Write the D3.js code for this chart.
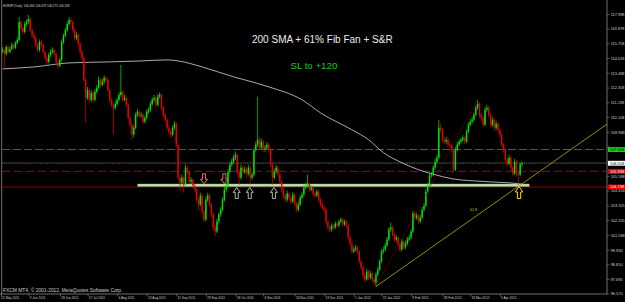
<!DOCTYPE html>
<html lang="en">
<head>
<meta charset="UTF-8">
<title>EURJPY Daily</title>
<script src="https://cdn.jsdelivr.net/npm/d3@7"></script>
<style>
	body { margin: 0; background: #000; }
	svg { display: block; }
	.small { font-family: "Liberation Sans", Arial, sans-serif; }
</style>
</head>
<body>
<svg id="chart" width="625" height="302"></svg>
<script>
// daily candles, EURJPY, 22 May 2011 .. mid Apr 2012
const open = [
	115.10,115.24,114.94,115.47,115.09,115.32,115.63,115.40,115.78,116.01,
	117.39,116.93,116.62,117.23,117.39,117.62,116.77,116.39,116.16,115.63,
	115.24,115.86,115.63,115.09,114.63,114.33,114.86,115.09,115.24,114.94,
	114.33,114.02,114.48,115.86,116.32,116.77,117.23,117.54,117.39,116.77,
	116.16,116.39,115.70,115.09,114.63,112.95,111.57,112.18,111.42,111.95,
	111.42,112.03,112.34,112.95,112.57,112.80,113.10,112.95,112.18,111.42,
	111.04,110.81,111.11,111.42,111.80,112.03,111.42,111.57,111.04,110.04,
	109.51,108.74,109.28,110.27,110.50,110.20,110.27,109.74,110.04,110.50,
	110.65,111.11,111.42,111.57,111.04,111.65,111.80,110.81,110.27,109.89,
	109.28,108.97,108.74,109.28,109.58,107.98,105.45,105.07,105.45,104.92,
	106.22,105.91,105.15,105.30,104.84,104.53,103.77,103.39,104.08,102.85,
	102.24,103.77,104.08,103.39,102.62,101.63,101.32,102.09,102.62,103.00,
	103.77,104.53,104.84,105.91,106.45,106.68,106.98,107.21,105.91,105.45,
	106.22,105.91,106.06,105.76,106.22,105.45,105.68,107.59,107.98,108.36,
	107.75,108.21,107.59,107.75,107.98,107.59,106.45,105.45,105.91,106.22,
	105.68,105.15,104.53,104.08,103.77,104.23,103.92,103.62,104.15,103.46,
	103.00,103.39,103.92,104.15,104.69,104.84,104.99,104.53,104.69,104.23,
	104.08,104.38,103.77,103.39,103.16,103.00,102.09,101.63,101.47,101.78,
	101.63,101.93,101.78,102.09,102.24,101.86,102.09,101.78,100.86,100.40,
	99.79,99.94,100.10,99.79,99.03,98.57,97.96,97.65,98.26,97.80,
	98.11,97.65,97.42,98.03,98.41,99.03,99.79,99.94,100.25,100.71,
	101.47,101.63,101.09,100.71,100.86,100.33,99.94,100.56,100.10,100.40,
	100.71,100.86,101.32,102.70,102.39,102.55,102.09,102.39,103.00,103.31,
	104.38,104.84,105.61,105.68,106.22,106.68,106.98,109.28,109.12,108.36,
	108.21,108.36,107.98,107.90,107.59,106.06,107.59,107.98,108.21,108.36,
	108.51,108.21,108.97,109.51,109.74,109.89,110.27,110.81,111.11,110.27,
	110.04,109.51,110.65,110.81,110.27,109.51,109.89,109.28,109.58,109.12,
	108.74,107.98,107.59,106.83,106.52,106.98,106.22,105.76,106.68,105.76,
	105.68,106.46
];
const high = [
	115.45,115.36,115.60,115.62,115.50,115.80,115.75,115.92,116.20,117.77,
	117.52,117.05,117.40,117.58,117.92,117.75,116.90,116.55,116.30,115.78,
	116.05,116.00,115.72,115.20,114.80,115.05,115.30,115.45,115.35,115.05,
	114.50,114.65,116.05,116.50,116.95,117.40,117.77,117.72,117.50,116.90,
	116.60,116.50,115.85,115.25,114.75,113.10,112.40,112.30,112.15,112.10,
	112.25,112.55,113.20,113.10,113.05,113.30,113.25,113.05,112.30,111.55,
	111.20,111.35,111.60,112.00,114.10,112.15,111.80,111.70,111.15,110.20,
	109.65,109.45,110.45,110.70,110.62,110.48,110.40,110.22,110.68,110.85,
	111.30,111.62,111.80,111.70,111.85,112.00,111.92,110.95,110.40,110.00,
	109.45,109.10,109.45,109.80,109.70,108.10,105.65,105.70,105.60,106.45,
	106.35,106.00,105.50,105.40,105.00,104.65,103.95,104.30,104.20,103.00,
	104.00,104.30,104.20,103.50,102.75,101.80,102.30,102.80,103.20,103.95,
	104.75,105.05,106.10,106.65,106.90,107.20,107.45,107.30,106.05,106.45,
	106.40,106.30,106.20,106.45,106.35,105.90,107.75,108.20,111.65,108.55,
	108.45,108.35,107.95,108.20,108.10,107.70,106.60,106.15,106.45,106.35,
	105.80,105.25,104.70,104.20,104.45,104.35,104.05,104.35,104.25,103.60,
	103.60,104.10,104.35,104.90,105.05,105.68,105.10,104.90,104.80,104.40,
	104.55,104.50,103.90,103.55,103.30,103.10,102.20,101.80,101.95,101.90,
	102.10,102.05,102.25,102.40,102.35,102.25,102.20,101.90,101.00,100.55,
	100.15,100.30,100.25,99.90,99.15,98.70,98.10,98.45,98.40,98.30,
	98.25,97.80,98.20,98.60,99.20,99.95,100.15,100.45,100.90,101.65,
	102.01,101.75,101.20,101.05,100.95,100.45,100.75,100.70,100.60,100.90,
	101.05,101.50,102.90,102.85,102.75,102.65,102.60,103.20,103.50,104.55,
	105.05,105.80,105.90,106.40,106.90,107.20,109.89,109.60,109.25,108.55,
	108.60,108.50,108.15,108.05,107.70,107.80,108.20,108.40,108.55,108.70,
	108.65,109.15,109.70,109.95,110.10,110.45,111.00,111.42,111.25,110.45,
	110.15,110.85,111.05,110.95,110.40,110.10,110.00,109.80,109.70,109.25,
	108.85,108.10,107.70,106.95,107.20,107.10,106.35,106.90,106.80,105.95,
	106.62,106.68
];
const low = [
	114.98,113.94,114.80,114.95,114.98,115.20,115.22,115.31,115.66,115.90,
	116.70,116.40,116.50,117.05,117.20,116.60,116.18,115.95,115.45,115.02,
	115.10,115.45,114.92,114.45,114.05,114.20,114.70,114.95,114.75,114.15,
	113.82,113.90,114.35,115.70,116.20,116.62,117.10,117.15,116.55,115.95,
	116.00,115.50,114.90,114.40,112.75,109.66,111.40,111.20,111.25,111.15,
	111.30,111.90,112.20,112.40,112.45,112.65,112.75,112.00,111.20,110.85,
	108.74,110.65,110.95,111.30,111.65,111.25,111.30,110.85,109.85,109.30,
	108.36,108.55,109.15,110.10,110.00,110.05,109.55,109.60,109.90,110.35,
	110.50,110.95,111.25,110.85,110.90,111.50,110.60,110.05,109.70,109.10,
	108.75,108.50,108.60,109.10,107.80,105.25,104.40,104.90,104.30,104.80,
	105.70,104.95,104.95,104.65,104.30,103.55,103.00,103.25,102.65,102.05,
	102.10,103.60,103.20,102.40,101.40,100.94,101.20,101.95,102.45,102.85,
	103.60,104.35,104.70,105.75,106.30,106.50,106.80,105.70,104.90,105.30,
	105.70,105.75,105.50,105.60,104.92,105.30,105.55,107.40,107.80,107.55,
	107.60,107.40,107.40,107.60,107.35,106.25,104.92,105.30,105.75,105.50,
	104.95,104.35,103.85,103.55,103.60,103.70,103.40,103.50,103.25,102.80,
	102.85,103.25,103.80,104.00,104.55,104.70,104.35,104.40,104.05,103.90,
	103.95,103.55,103.20,102.95,102.80,101.90,101.45,101.25,101.30,101.45,
	101.50,101.60,101.65,101.95,101.70,101.75,101.60,100.65,100.20,99.60,
	99.65,99.80,99.60,98.85,98.35,97.75,97.45,97.55,97.60,97.65,
	97.45,97.25,97.11,97.90,98.30,98.90,99.60,99.80,100.10,100.60,
	101.30,100.90,100.50,100.55,100.15,99.75,99.80,99.95,99.95,100.25,
	100.55,100.70,101.20,102.20,102.20,101.90,101.95,102.25,102.85,103.20,
	104.25,104.70,105.45,105.55,106.05,106.55,106.85,108.90,108.15,108.00,
	108.05,107.80,107.70,107.40,105.85,105.95,107.45,107.85,108.05,108.20,
	108.00,108.10,108.85,109.35,109.60,109.75,110.15,110.65,110.05,109.85,
	109.30,109.40,110.50,110.05,109.30,109.35,109.05,109.10,108.95,108.55,
	107.80,107.35,106.60,106.30,106.40,106.00,105.55,105.65,105.55,104.90,
	105.55,106.28
];
const close = [
	115.24,114.94,115.47,115.09,115.32,115.63,115.40,115.78,116.01,117.39,
	116.93,116.62,117.23,117.39,117.62,116.77,116.39,116.16,115.63,115.24,
	115.86,115.63,115.09,114.63,114.33,114.86,115.09,115.24,114.94,114.33,
	114.02,114.48,115.86,116.32,116.77,117.23,117.54,117.39,116.77,116.16,
	116.39,115.70,115.09,114.63,112.95,111.57,112.18,111.42,111.95,111.42,
	112.03,112.34,112.95,112.57,112.80,113.10,112.95,112.18,111.42,111.04,
	110.81,111.11,111.42,111.80,112.03,111.42,111.57,111.04,110.04,109.51,
	108.74,109.28,110.27,110.50,110.20,110.27,109.74,110.04,110.50,110.65,
	111.11,111.42,111.57,111.04,111.65,111.80,110.81,110.27,109.89,109.28,
	108.97,108.74,109.28,109.58,107.98,105.45,105.07,105.45,104.92,106.22,
	105.91,105.15,105.30,104.84,104.53,103.77,103.39,104.08,102.85,102.24,
	103.77,104.08,103.39,102.62,101.63,101.32,102.09,102.62,103.00,103.77,
	104.53,104.84,105.91,106.45,106.68,106.98,107.21,105.91,105.45,106.22,
	105.91,106.06,105.76,106.22,105.45,105.68,107.59,107.98,108.36,107.75,
	108.21,107.59,107.75,107.98,107.59,106.45,105.45,105.91,106.22,105.68,
	105.15,104.53,104.08,103.77,104.23,103.92,103.62,104.15,103.46,103.00,
	103.39,103.92,104.15,104.69,104.84,104.99,104.53,104.69,104.23,104.08,
	104.38,103.77,103.39,103.16,103.00,102.09,101.63,101.47,101.78,101.63,
	101.93,101.78,102.09,102.24,101.86,102.09,101.78,100.86,100.40,99.79,
	99.94,100.10,99.79,99.03,98.57,97.96,97.65,98.26,97.80,98.11,
	97.65,97.42,98.03,98.41,99.03,99.79,99.94,100.25,100.71,101.47,
	101.63,101.09,100.71,100.86,100.33,99.94,100.56,100.10,100.40,100.71,
	100.86,101.32,102.70,102.39,102.55,102.09,102.39,103.00,103.31,104.38,
	104.84,105.61,105.68,106.22,106.68,106.98,109.28,109.12,108.36,108.21,
	108.36,107.98,107.90,107.59,106.06,107.59,107.98,108.21,108.36,108.51,
	108.21,108.97,109.51,109.74,109.89,110.27,110.81,111.11,110.27,110.04,
	109.51,110.65,110.81,110.27,109.51,109.89,109.28,109.58,109.12,108.74,
	107.98,107.59,106.83,106.52,106.98,106.22,105.76,106.68,105.76,105.68,
	106.46,106.56
];

// 200 SMA read at a few bars
const smaIdx = [0, 17, 36, 59, 75, 89, 95, 108, 125, 131, 144, 162, 172, 189, 198, 206, 216, 225, 234, 243, 261, 279, 281];
const smaVal = [113.79, 113.94, 114.25, 114.33, 114.40, 114.48, 114.40, 113.94, 113.18, 112.95, 112.41, 111.42, 110.42, 109.12, 108.36, 107.37, 106.60, 106.06, 105.68, 105.37, 105.15, 104.99, 104.95];

// time axis
const dateIdx = [0, 14, 31, 46, 62, 78, 94, 110, 126, 141, 158, 174, 190, 205, 221, 238, 253, 269];
const dateLabels = ["22 May 2011", "9 Jun 2011", "28 Jun 2011", "17 Jul 2011", "4 Aug 2011", "23 Aug 2011",
	"11 Sep 2011", "29 Sep 2011", "18 Oct 2011", "6 Nov 2011", "24 Nov 2011", "13 Dec 2011",
	"1 Jan 2012", "22 Jan 2012", "9 Feb 2012", "28 Feb 2012", "18 Mar 2012", "5 Apr 2012"];

// price axis
const priceTicks = [117.998, 116.878, 115.758, 114.618, 113.488, 112.358, 111.238, 110.108, 108.968, 107.848,
	106.717, 105.588, 104.458, 103.325, 102.205, 101.068, 99.930, 98.810, 97.690, 96.570];

// horizontal levels
const levelPrices = [107.608, 105.938, 104.738];   // green dashed, red dashed, red solid
const lastPrice = 106.558;
const supportPrice = 104.87;
const supportFromIdx = 73, supportToIdx = 285;

// fib fan: 0 point, 100% point, 61.8 ray end
const fanIdx = [202, 257, 328];
const fanPrice = [97.11, 111.42, 109.66];

// arrow objects (bar, top price)
const downArrowIdx = [109.0, 120.0], downArrowPrice = [105.75, 105.75];
const upArrowIdx = [126.7, 133.75, 146.8], upArrowPrice = [104.70, 104.70, 104.70];
const yellowArrowIdx = [279.4], yellowArrowPrice = [104.77];

const W = 625, H = 302, axisX = 607, axisY = 294;
const svg = d3.select("#chart");
svg.append("rect").attr("width", W).attr("height", H).attr("fill", "#000");

const xs = d3.scaleLinear().domain([0, 281]).range([2.5, 522]);
const ys = d3.scaleLinear().domain([96.570, 117.998]).range([293.5, 14]);

svg.append("clipPath").attr("id", "plot")
	.append("rect").attr("x", 2).attr("y", 0).attr("width", axisX - 2).attr("height", axisY);
const plot = svg.append("g").attr("clip-path", "url(#plot)");

// levels behind the candles
plot.append("line").attr("x1", 2).attr("x2", axisX)
	.attr("y1", ys(levelPrices[0])).attr("y2", ys(levelPrices[0]))
	.attr("stroke", "#008c00").attr("stroke-width", 1.1).attr("stroke-dasharray", "8,3");
plot.append("line").attr("x1", 2).attr("x2", axisX)
	.attr("y1", ys(lastPrice)).attr("y2", ys(lastPrice))
	.attr("stroke", "#3c3c3c").attr("stroke-width", 1.8).attr("stroke-dasharray", "1.2,0.6");
plot.append("line").attr("x1", 2).attr("x2", axisX)
	.attr("y1", ys(levelPrices[1])).attr("y2", ys(levelPrices[1]))
	.attr("stroke", "#b00000").attr("stroke-width", 1).attr("stroke-dasharray", "8,4");
plot.append("line").attr("x1", 2).attr("x2", axisX)
	.attr("y1", ys(levelPrices[2])).attr("y2", ys(levelPrices[2]))
	.attr("stroke", "#8c0000").attr("stroke-width", 1);

// support band
plot.append("rect")
	.attr("x", xs(supportFromIdx)).attr("width", xs(supportToIdx) - xs(supportFromIdx))
	.attr("y", ys(supportPrice) - 1.4).attr("height", 2.8)
	.attr("fill", "#b4dcac");

// 200 SMA
const smaPts = smaIdx.map((d, i) => [xs(d), ys(smaVal[i])]);
plot.append("path")
	.attr("d", d3.line().curve(d3.curveMonotoneX)(smaPts))
	.attr("fill", "none").attr("stroke", "#bdbdbd").attr("stroke-width", 0.9);

// candles
const bars = d3.range(close.length);
const candle = plot.append("g").selectAll("g").data(bars).enter().append("g");
const col = i => close[i] >= open[i] ? "#00e800" : "#e80000";
candle.append("line")
	.attr("x1", i => xs(i)).attr("x2", i => xs(i))
	.attr("y1", i => ys(high[i])).attr("y2", i => ys(low[i]))
	.attr("stroke", col).attr("stroke-width", 0.7);
candle.append("rect")
	.attr("x", i => xs(i) - 0.7).attr("width", 1.4)
	.attr("y", i => ys(Math.max(open[i], close[i])))
	.attr("height", i => Math.max(0.6, Math.abs(ys(open[i]) - ys(close[i]))))
	.attr("fill", col);

// fib fan
plot.append("line")
	.attr("x1", xs(fanIdx[0])).attr("y1", ys(fanPrice[0]))
	.attr("x2", xs(fanIdx[1])).attr("y2", ys(fanPrice[1]))
	.attr("stroke", "#c00000").attr("stroke-width", 0.8).attr("stroke-dasharray", "1,1.5");
plot.append("line")
	.attr("x1", xs(fanIdx[0])).attr("y1", ys(fanPrice[0]))
	.attr("x2", xs(fanIdx[2])).attr("y2", ys(fanPrice[2]))
	.attr("stroke", "#b4b400").attr("stroke-width", 0.8);
plot.append("text").attr("class", "small")
	.attr("x", xs(254) - 2).attr("y", ys(102.9))
	.attr("font-size", 3.6).attr("fill", "#c8c800").text("61.8");

// hollow arrows
function arrowPath(cx, top, w, h, up) {
	const hw = w / 2, sw = w * 0.22, hh = h * 0.45;
	const p = up
		? [[cx, top], [cx + hw, top + hh], [cx + sw, top + hh], [cx + sw, top + h], [cx - sw, top + h], [cx - sw, top + hh], [cx - hw, top + hh]]
		: [[cx - sw, top], [cx + sw, top], [cx + sw, top + h - hh], [cx + hw, top + h - hh], [cx, top + h], [cx - hw, top + h - hh], [cx - sw, top + h - hh]];
	return d3.line()(p) + "Z";
}
plot.selectAll(".dn").data(downArrowIdx).enter().append("path")
	.attr("d", (d, i) => arrowPath(xs(d), ys(downArrowPrice[i]), 7, 10, false))
	.attr("fill", "#000").attr("stroke", "#f07050").attr("stroke-width", 1);
plot.selectAll(".up").data(upArrowIdx).enter().append("path")
	.attr("d", (d, i) => arrowPath(xs(d), ys(upArrowPrice[i]), 7, 11, true))
	.attr("fill", "#000").attr("stroke", "#a8bca8").attr("stroke-width", 1);
plot.selectAll(".yl").data(yellowArrowIdx).enter().append("path")
	.attr("d", (d, i) => arrowPath(xs(d), ys(yellowArrowPrice[i]), 7.5, 12, true))
	.attr("fill", "#000").attr("stroke", "#ffe000").attr("stroke-width", 1);

// frame
svg.append("line").attr("x1", 1.7).attr("x2", 1.7).attr("y1", 0).attr("y2", axisY)
	.attr("stroke", "#8a8a8a").attr("stroke-width", 0.8);
svg.append("line").attr("x1", axisX).attr("x2", axisX).attr("y1", 0).attr("y2", axisY)
	.attr("stroke", "#8a8a8a").attr("stroke-width", 0.8);
svg.append("line").attr("x1", 0).attr("x2", axisX).attr("y1", axisY).attr("y2", axisY)
	.attr("stroke", "#8a8a8a").attr("stroke-width", 0.8);

// right price axis (labels that sit under a price box are hidden, as in MT4)
const boxPrices = [levelPrices[0], lastPrice, levelPrices[1], levelPrices[2]];
const hidden = t => boxPrices.some(p => Math.abs(ys(t) - ys(p)) < 3.2);
const yAxis = svg.append("g").attr("transform", `translate(${axisX},0)`)
	.call(d3.axisRight(ys).tickValues(priceTicks).tickFormat(d3.format(".3f")).tickSize(2.5).tickSizeOuter(0).tickPadding(1.2));
yAxis.select(".domain").remove();
yAxis.selectAll("line").attr("stroke", "#8a8a8a").attr("stroke-width", 0.6);
yAxis.selectAll("text").attr("class", "small").attr("font-size", 3.9).attr("fill", "#cfcfcf").attr("dy", "0.35em");
yAxis.selectAll(".tick").filter(d => hidden(d)).select("text").remove();

// bottom time axis
const xAxis = svg.append("g").attr("transform", `translate(0,${axisY})`)
	.call(d3.axisBottom(xs).tickValues(dateIdx).tickFormat((d, i) => dateLabels[i]).tickSize(2.5).tickSizeOuter(0));
xAxis.select(".domain").remove();
xAxis.selectAll("line").attr("stroke", "#8a8a8a").attr("stroke-width", 0.6)
	.attr("transform", (d, i) => i === 0 ? "translate(-1.5,0)" : null);
xAxis.selectAll("text").attr("class", "small").attr("font-size", 3.2).attr("fill", "#cfcfcf")
	.attr("text-anchor", "start").attr("x", (d, i) => i === 0 ? -1.8 : 0.8).attr("y", 4.8).attr("dy", 0);

// price boxes on the right axis
function priceBox(p, bg, fg) {
	const g = svg.append("g");
	g.append("rect").attr("x", axisX + 1).attr("y", ys(p) - 2.4).attr("width", W - axisX - 1).attr("height", 4.9).attr("fill", bg);
	g.append("text").attr("class", "small").attr("x", axisX + 3).attr("y", ys(p)).attr("dy", "0.35em")
		.attr("font-size", 3.9).attr("fill", fg).text(d3.format(".3f")(p));
}
priceBox(levelPrices[0], "#00e000", "#000");
priceBox(lastPrice, "#ffffff", "#000");
priceBox(levelPrices[1], "#e00000", "#fff");
priceBox(levelPrices[2], "#e00000", "#fff");

// texts
svg.append("text").attr("class", "small").attr("x", 3).attr("y", 7).attr("font-size", 3)
	.attr("fill", "#d8d8d8").attr("xml:space", "preserve")
	.text("EURJPY,Daily  106.464 106.678 106.275 106.558");
svg.append("text").attr("class", "small").attr("x", 3).attr("y", 291.6).attr("font-size", 4.9)
	.attr("fill", "#cfcfcf").text("FXCM MT4, \u00a9 2001-2012, MetaQuotes Software Corp.");
svg.append("text").attr("x", 252).attr("y", 43)
	.attr("font-family", "Liberation Sans, Arial, sans-serif").attr("font-size", 10)
	.attr("fill", "#ececec").text("200 SMA + 61% Fib Fan + S&R");
svg.append("text").attr("x", 290.5).attr("y", 69)
	.attr("font-family", "Liberation Sans, Arial, sans-serif").attr("font-size", 9.7)
	.attr("fill", "#10d010").text("SL to +120");
</script>
</body>
</html>
